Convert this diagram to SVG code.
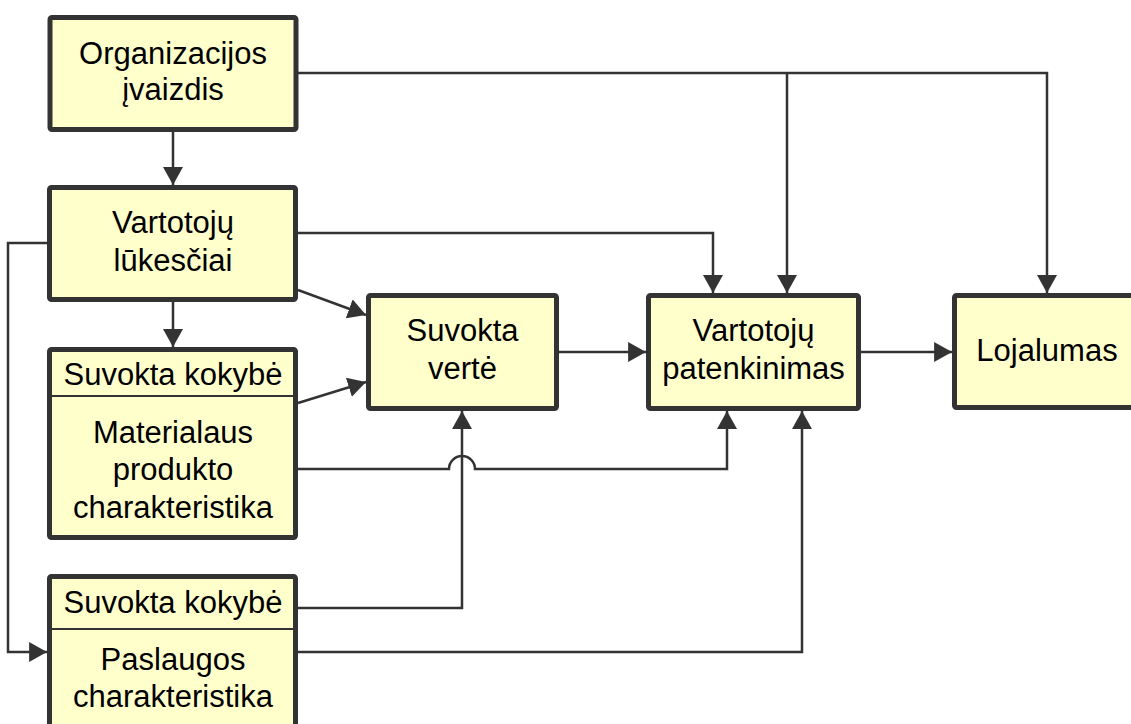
<svg xmlns="http://www.w3.org/2000/svg" width="1131" height="724" viewBox="0 0 1131 724">
  <style>
    .box { fill: #FFFFCC; stroke: #333333; stroke-width: 5; }
    .div { stroke: #333333; stroke-width: 2; }
    .lbl { font-family: "Liberation Sans", Arial, sans-serif; font-size: 31px; fill: #000000; text-anchor: middle; }
    .wire { fill: none; stroke: #333333; stroke-width: 2.5; marker-end: url(#arrow); }
  </style>
  <defs>
    <marker id="arrow" markerUnits="userSpaceOnUse" markerWidth="18" markerHeight="20" viewBox="0 0 17 19" refX="17" refY="9.5" orient="auto">
      <path d="M0 0 L17 9.5 L0 19 Z" fill="#333333"/>
    </marker>
  </defs>
  <rect width="1131" height="724" fill="#FFFFFF"/>

  <!-- connectors -->
  <g id="connectors">
    <path class="wire" d="M173 132 V185"/>
    <path class="wire" d="M298 73 H1047 V293"/>
    <path class="wire" d="M787 73 V293"/>
    <path class="wire" d="M298 233 H713 V293"/>
    <path class="wire" d="M298 290 L366 315"/>
    <path class="wire" d="M173 302 V347"/>
    <path class="wire" d="M47 243 H8 V652 H47"/>
    <path class="wire" d="M298 403 L366 382"/>
    <path class="wire" d="M298 469 H449 A13 13 0 0 1 475 469 H727 V411"/>
    <path class="wire" d="M298 608 H462 V411"/>
    <path class="wire" d="M298 652 H802 V411"/>
    <path class="wire" d="M559 352 H646"/>
    <path class="wire" d="M861 352 H952"/>
  </g>

  <!-- nodes -->
  <g id="organizacijos-ivaizdis">
    <rect class="box" x="50" y="17.5" width="246" height="112" rx="2"/>
    <text class="lbl" x="173" y="64">Organizacijos</text>
    <text class="lbl" x="173" y="100">įvaizdis</text>
  </g>

  <g id="vartotoju-lukesciai">
    <rect class="box" x="49.5" y="187.5" width="246" height="112" rx="2"/>
    <text class="lbl" x="173" y="233">Vartotojų</text>
    <text class="lbl" x="173" y="271">lūkesčiai</text>
  </g>

  <g id="materialaus-produkto">
    <rect class="box" x="49.5" y="349.5" width="246" height="188" rx="2"/>
    <line class="div" x1="49.5" y1="396" x2="295.5" y2="396"/>
    <text class="lbl" x="173" y="385">Suvokta kokybė</text>
    <text class="lbl" x="173" y="443">Materialaus</text>
    <text class="lbl" x="173" y="480">produkto</text>
    <text class="lbl" x="173" y="518">charakteristika</text>
  </g>

  <g id="paslaugos">
    <rect class="box" x="49.5" y="576.5" width="246" height="200" rx="2"/>
    <line class="div" x1="49.5" y1="629" x2="295.5" y2="629"/>
    <text class="lbl" x="173" y="613">Suvokta kokybė</text>
    <text class="lbl" x="173" y="670">Paslaugos</text>
    <text class="lbl" x="173" y="707">charakteristika</text>
  </g>

  <g id="suvokta-verte">
    <rect class="box" x="368.5" y="295.5" width="188" height="113" rx="2"/>
    <text class="lbl" x="462.5" y="341">Suvokta</text>
    <text class="lbl" x="462.5" y="379">vertė</text>
  </g>

  <g id="vartotoju-patenkinimas">
    <rect class="box" x="648.5" y="295.5" width="210" height="113" rx="2"/>
    <text class="lbl" x="753.5" y="341">Vartotojų</text>
    <text class="lbl" x="753.5" y="379">patenkinimas</text>
  </g>

  <g id="lojalumas">
    <rect class="box" x="954.5" y="295.5" width="190" height="112" rx="2"/>
    <text class="lbl" x="1047" y="361">Lojalumas</text>
  </g>
</svg>
